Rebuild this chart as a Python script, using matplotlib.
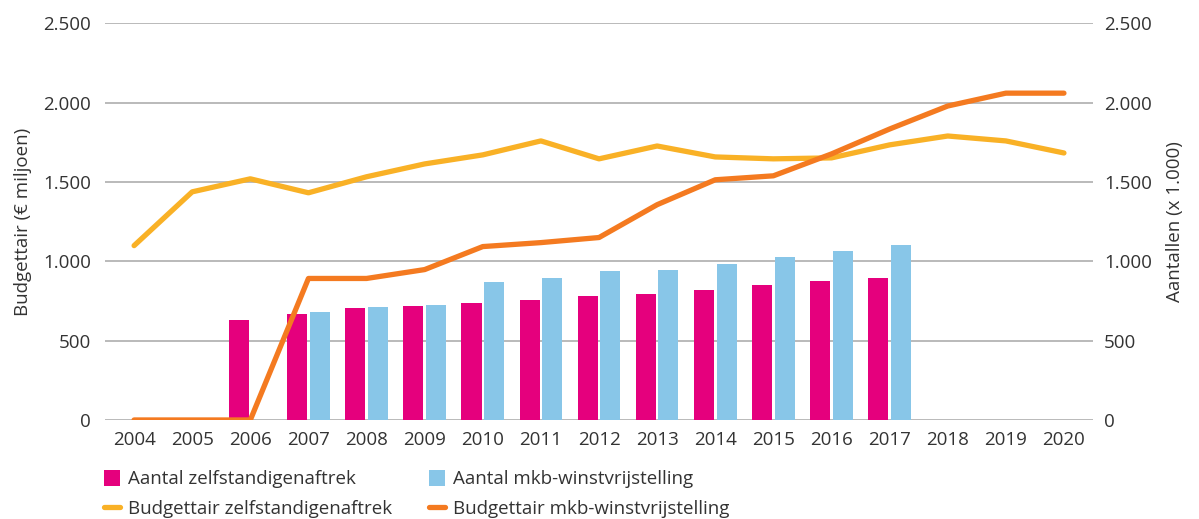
import numpy as np
import matplotlib.pyplot as plt

# data
years = [str(y) for y in range(2004, 2021)]
aantal_zelfstandig = [0, 0, 628, 666, 703, 716, 735, 754, 779, 791, 817, 848, 873, 892, 0, 0, 0]
aantal_mkb = [0, 0, 0, 678, 710, 722, 867, 898, 936, 948, 980, 1030, 1068, 1105, 0, 0, 0]
budget_zelfstandig = [1099, 1438, 1520, 1432, 1533, 1614, 1671, 1759, 1646, 1727, 1658,
                      1646, 1652, 1734, 1790, 1759, 1683]
budget_mkb = [0, 0, 0, 892, 892, 948, 1093, 1118, 1150, 1357, 1514, 1539, 1677, 1834,
              1979, 2060, 2060]
yticks = [0, 500, 1000, 1500, 2000, 2500]
ytick_labels = ['0', '500', '1.000', '1.500', '2.000', '2.500']

PINK = '#e5007d'
BLUE = '#88c6e8'
YELLOW = '#f9b126'
ORANGE = '#f47a20'
GRID = '#b4b4b4'
TEXT = '#333333'

plt.rcParams['font.family'] = ['Open Sans', 'DejaVu Sans']

fig = plt.figure(figsize=(11.99, 5.19), dpi=100)
ax = fig.add_axes([0.0876, 0.1908, 0.824, 0.7642])
ax2 = ax.twinx()

x = np.arange(len(years))
w = 0.345
off = 0.194

# bars belong to the right axis (Aantallen), same scale as left
b1 = ax.bar(x - off, aantal_zelfstandig, width=w, color=PINK, zorder=2)
b2 = ax.bar(x + off, aantal_mkb, width=w, color=BLUE, zorder=2)
l1, = ax.plot(x, budget_zelfstandig, color=YELLOW, lw=3.8, solid_capstyle='round',
              solid_joinstyle='round', zorder=3)
l2, = ax.plot(x, budget_mkb, color=ORANGE, lw=3.8, solid_capstyle='round',
              solid_joinstyle='round', zorder=3)

for a in (ax, ax2):
    a.set_ylim(0, 2500)
    a.set_yticks(yticks)
    a.set_yticklabels(ytick_labels)
    for s in a.spines.values():
        s.set_visible(False)
    a.tick_params(length=0, labelsize=13.5, colors=TEXT)

ax.set_xlim(-0.5, len(years) - 0.5)
ax.set_xticks(x)
ax.set_xticklabels(years)
ax.tick_params(axis='x', pad=8)
ax.tick_params(axis='y', pad=10)
ax2.tick_params(axis='y', pad=8)
ax.yaxis.grid(True, color=GRID, lw=1.3, zorder=0)
ax.set_axisbelow(True)

ax.set_ylabel('Budgettair (€ miljoen)', fontsize=13.5, color=TEXT, labelpad=8)
ax2.set_ylabel('Aantallen (x 1.000)', fontsize=13.5, color=TEXT, labelpad=10)

leg = fig.legend([b1, l1, b2, l2],
                 ['Aantal zelfstandigenaftrek', 'Budgettair zelfstandigenaftrek',
                  'Aantal mkb-winstvrijstelling', 'Budgettair mkb-winstvrijstelling'],
                 loc='upper left', bbox_to_anchor=(0.073, 0.127), ncol=2,
                 frameon=False, fontsize=13.5, handlelength=0.85, handleheight=0.9,
                 columnspacing=2.0, handletextpad=0.4, labelspacing=0.62)
for t in leg.get_texts():
    t.set_color(TEXT)

fig.savefig('out.png', dpi=100)
